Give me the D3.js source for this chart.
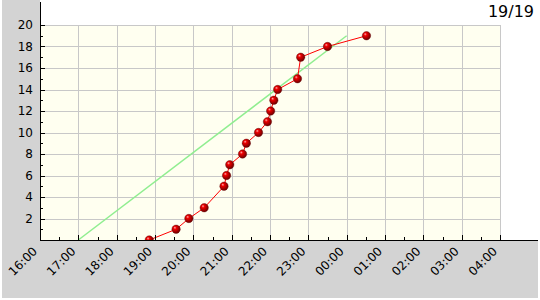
<!DOCTYPE html>
<html>
<head>
<meta charset="utf-8">
<script src="https://cdn.jsdelivr.net/npm/d3@7"></script>
<style>
  body { margin: 0; background: #fff; }
  svg { display: block; font-family: "DejaVu Sans", sans-serif; }
</style>
</head>
<body>
<div id="chart"></div>
<script>
// readings (time of day, count)
var times = ["18:51", "19:33", "19:53", "20:17", "20:48", "20:52", "20:57", "21:17", "21:23",
             "21:42", "21:56", "22:01", "22:06", "22:12", "22:43", "22:48", "23:30", "00:31"];
var counts = [0, 1, 2, 3, 5, 6, 7, 8, 9, 10, 11, 12, 13, 14, 15, 17, 18, 19];
// green target line
var trendTimes = ["17:00", "00:00"];
var trendCounts = [0, 19];
var xTicks = ["16:00", "17:00", "18:00", "19:00", "20:00", "21:00", "22:00",
              "23:00", "00:00", "01:00", "02:00", "03:00", "04:00"];
var yTicks = [2, 4, 6, 8, 10, 12, 14, 16, 18, 20];
var title = "19/19";

var width = 540, height = 300;
var margin = { top: 25, right: 40, bottom: 60, left: 40 };

// times before noon belong to the next day
function toDate(s) {
    var p = s.split(":");
    var h = +p[0], m = +p[1];
    return new Date(2020, 0, h < 12 ? 2 : 1, h, m);
}

var x = d3.scaleTime()
    .domain([toDate("16:00"), toDate("04:00")])
    .range([margin.left, width - margin.right]);
var y = d3.scaleLinear()
    .domain([0, 20])
    .range([height - margin.bottom, margin.top]);

var svg = d3.select("#chart").append("svg")
    .attr("width", width)
    .attr("height", height);

var defs = svg.append("defs");
var grad = defs.append("radialGradient")
    .attr("id", "ball")
    .attr("cx", "40%").attr("cy", "40%").attr("r", "60%")
    .attr("fx", "35%").attr("fy", "30%");
grad.append("stop").attr("offset", "0%").attr("stop-color", "#ffb0b0");
grad.append("stop").attr("offset", "30%").attr("stop-color", "#ee0000");
grad.append("stop").attr("offset", "100%").attr("stop-color", "#700000");

defs.append("clipPath").attr("id", "plot-clip")
    .append("rect")
    .attr("x", margin.left).attr("y", margin.top)
    .attr("width", width - margin.left - margin.right)
    .attr("height", height - margin.top - margin.bottom);

// grey frame left and bottom
svg.append("rect")
    .attr("x", 2).attr("y", 0)
    .attr("width", margin.left - 2).attr("height", height - 2)
    .attr("fill", "#d3d3d3");
svg.append("rect")
    .attr("x", 2).attr("y", y(0))
    .attr("width", width - 4).attr("height", height - 2 - y(0))
    .attr("fill", "#d3d3d3");

// plot background
svg.append("rect")
    .attr("x", margin.left).attr("y", margin.top)
    .attr("width", width - margin.left - margin.right)
    .attr("height", height - margin.top - margin.bottom)
    .attr("fill", "#fffff0");

// grid
var grid = svg.append("g").attr("stroke", "#c8c8c8").attr("stroke-width", 1);
xTicks.slice(1).forEach(function (t) {
    grid.append("line")
        .attr("x1", Math.round(x(toDate(t))) + 0.5).attr("x2", Math.round(x(toDate(t))) + 0.5)
        .attr("y1", margin.top).attr("y2", y(0));
});
yTicks.forEach(function (v) {
    grid.append("line")
        .attr("x1", margin.left).attr("x2", width - margin.right)
        .attr("y1", Math.round(y(v)) + 0.5).attr("y2", Math.round(y(v)) + 0.5);
});

// trend line
var line = d3.line()
    .x(function (d) { return x(toDate(d[0])); })
    .y(function (d) { return y(d[1]); });

svg.append("path")
    .datum(d3.zip(trendTimes, trendCounts))
    .attr("fill", "none")
    .attr("stroke", "#90ee90")
    .attr("stroke-width", 1.5)
    .attr("d", line);

// data line + balls
var plot = svg.append("g").attr("clip-path", "url(#plot-clip)");
var data = d3.zip(times, counts);
plot.append("path")
    .datum(data)
    .attr("fill", "none")
    .attr("stroke", "#ff0000")
    .attr("stroke-width", 1)
    .attr("d", line);
plot.selectAll("circle")
    .data(data)
    .enter().append("circle")
    .attr("cx", function (d) { return x(toDate(d[0])); })
    .attr("cy", function (d) { return y(d[1]); })
    .attr("r", 4.2)
    .attr("fill", "url(#ball)")
    .attr("stroke", "#600000")
    .attr("stroke-width", 0.4);

// y axis
var yAxis = d3.axisLeft(y)
    .tickValues(d3.range(1, 21))
    .tickSize(0)
    .tickFormat("");
svg.append("g")
    .attr("transform", "translate(" + (margin.left + 0.5) + ",0)")
    .call(yAxis)
    .call(function (g) { g.select(".domain").remove(); });

var axes = svg.append("g").attr("stroke", "#000");
axes.append("line")
    .attr("x1", margin.left + 0.5).attr("x2", margin.left + 0.5)
    .attr("y1", 2).attr("y2", y(0));
axes.append("line")
    .attr("x1", margin.left).attr("x2", width - 2)
    .attr("y1", Math.round(y(0)) + 0.5).attr("y2", Math.round(y(0)) + 0.5);

d3.range(1, 21).forEach(function (v) {
    var len = v % 2 === 0 ? 5 : 3;
    axes.append("line")
        .attr("x1", margin.left).attr("x2", margin.left + len)
        .attr("y1", Math.round(y(v)) + 0.5).attr("y2", Math.round(y(v)) + 0.5);
});
x.ticks(d3.timeMinute.every(30)).forEach(function (t) {
    var len = t.getMinutes() === 0 ? 5 : 3;
    var px = Math.round(x(t)) + 0.5;
    axes.append("line")
        .attr("x1", px).attr("x2", px)
        .attr("y1", y(0)).attr("y2", y(0) - len);
});

svg.append("g")
    .selectAll("text")
    .data(yTicks)
    .enter().append("text")
    .attr("x", 33)
    .attr("y", function (d) { return y(d); })
    .attr("dy", "0.36em")
    .attr("text-anchor", "end")
    .attr("font-size", 12)
    .attr("fill", "#000")
    .text(function (d) { return d; });

svg.append("g")
    .selectAll("text")
    .data(xTicks)
    .enter().append("text")
    .attr("transform", function (d) {
        return "translate(" + (x(toDate(d)) - 2) + "," + (y(0) + 12) + ") rotate(-45)";
    })
    .attr("text-anchor", "end")
    .attr("font-size", 12)
    .attr("fill", "#000")
    .text(function (d) { return d; });

svg.append("text")
    .attr("x", 534)
    .attr("y", 17)
    .attr("text-anchor", "end")
    .attr("font-size", 16)
    .attr("fill", "#000")
    .text(title);
</script>
</body>
</html>
